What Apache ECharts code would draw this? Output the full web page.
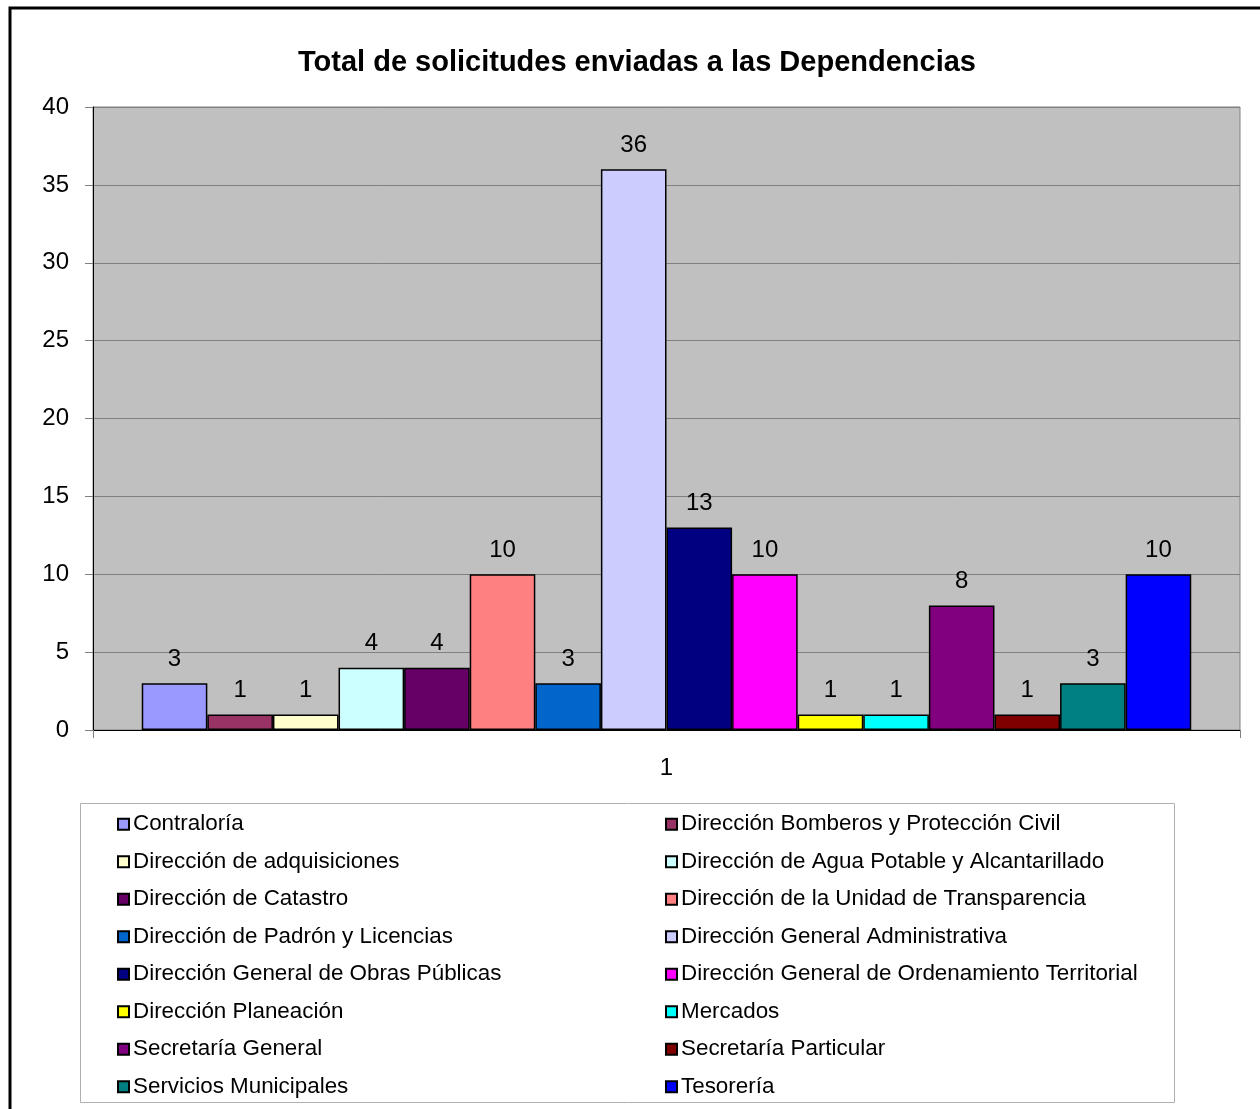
<!DOCTYPE html>
<html>
<head>
<meta charset="utf-8">
<script src="https://cdn.jsdelivr.net/npm/echarts@6/dist/echarts.min.js"></script>
<style>
  html, body { margin: 0; padding: 0; background: #fff; }
  #chart { width: 1260px; height: 1109px; }
</style>
</head>
<body>
<div id="chart"></div>
<script>
const categories = ['1'];
const dependencias = [
  'Contraloría',
  'Dirección Bomberos y Protección Civil',
  'Dirección de adquisiciones',
  'Dirección de Agua Potable y Alcantarillado',
  'Dirección de Catastro',
  'Dirección de la Unidad de Transparencia',
  'Dirección de Padrón y Licencias',
  'Dirección General Administrativa',
  'Dirección General de Obras Públicas',
  'Dirección General de Ordenamiento Territorial',
  'Dirección Planeación',
  'Mercados',
  'Secretaría General',
  'Secretaría Particular',
  'Servicios Municipales',
  'Tesorería'
];
const solicitudes = [3, 1, 1, 4, 4, 10, 3, 36, 13, 10, 1, 1, 8, 1, 3, 10];
const colores = [
  '#9999FF', '#993366', '#FFFFCC', '#CCFFFF', '#660066', '#FF8080', '#0066CC', '#CCCCFF',
  '#000080', '#FF00FF', '#FFFF00', '#00FFFF', '#800080', '#800000', '#008080', '#0000FF'
];
const yTicks = { min: 0, max: 40, interval: 5 };

const font = 'Arial, "Liberation Sans", sans-serif';

let chart = echarts.init(document.getElementById('chart'));

const series = dependencias.map((name, i) => ({
  name: name,
  type: 'bar',
  data: [solicitudes[i]],
  barGap: '0%',
  barCategoryGap: '8.5%',
  itemStyle: { color: colores[i], borderColor: '#000', borderWidth: 1.5 },
  label: {
    show: true,
    position: 'top',
    distance: 12,
    color: '#000',
    fontFamily: font,
    fontSize: 24
  }
}));

const legendCommon = {
  orient: 'vertical',
  top: 808,
  icon: 'rect',
  itemWidth: 11,
  itemHeight: 11,
  itemGap: 15.1,
  textStyle: { fontFamily: font, fontSize: 22.4, color: '#000', lineHeight: 22.4, padding: [0, 0, 0, -1] }
};

chart.setOption({
  animation: false,
  title: {
    text: 'Total de solicitudes enviadas a las Dependencias',
    left: 632,
    textAlign: 'center',
    top: 43,
    textStyle: { fontFamily: font, fontSize: 29, fontWeight: 'bold', color: '#000' }
  },
  graphic: [
    {
      type: 'rect',
      shape: { x: 10, y: 8, width: 1300, height: 1200 },
      style: { fill: 'none', stroke: '#000', lineWidth: 3 },
      silent: true
    },
    {
      type: 'rect',
      shape: { x: 80.5, y: 803.5, width: 1094, height: 299 },
      style: { fill: 'none', stroke: '#b0b0b0', lineWidth: 1 },
      silent: true
    }
  ],
  legend: [
    Object.assign({}, legendCommon, {
      left: 112,
      data: dependencias.filter((d, i) => i % 2 === 0)
    }),
    Object.assign({}, legendCommon, {
      left: 660,
      data: dependencias.filter((d, i) => i % 2 === 1)
    })
  ],
  grid: {
    left: 93,
    right: 20,
    top: 107,
    bottom: 379,
    show: true,
    backgroundColor: '#C0C0C0',
    borderColor: '#808080',
    borderWidth: 1
  },
  xAxis: {
    type: 'category',
    data: categories,
    axisLine: { lineStyle: { color: '#000', width: 1 } },
    axisTick: { show: true, alignWithLabel: false, length: 8, lineStyle: { color: '#808080' } },
    axisLabel: { margin: 26, fontFamily: font, fontSize: 24, color: '#000' }
  },
  yAxis: {
    type: 'value',
    min: yTicks.min,
    max: yTicks.max,
    interval: yTicks.interval,
    axisLine: { show: true, lineStyle: { color: '#000', width: 1 } },
    axisTick: { show: true, length: 8, lineStyle: { color: '#808080' } },
    axisLabel: { margin: 24, fontFamily: font, fontSize: 24, color: '#000' },
    splitLine: { show: true, lineStyle: { color: '#808080', width: 1 } }
  },
  series: series
});
</script>
</body>
</html>
